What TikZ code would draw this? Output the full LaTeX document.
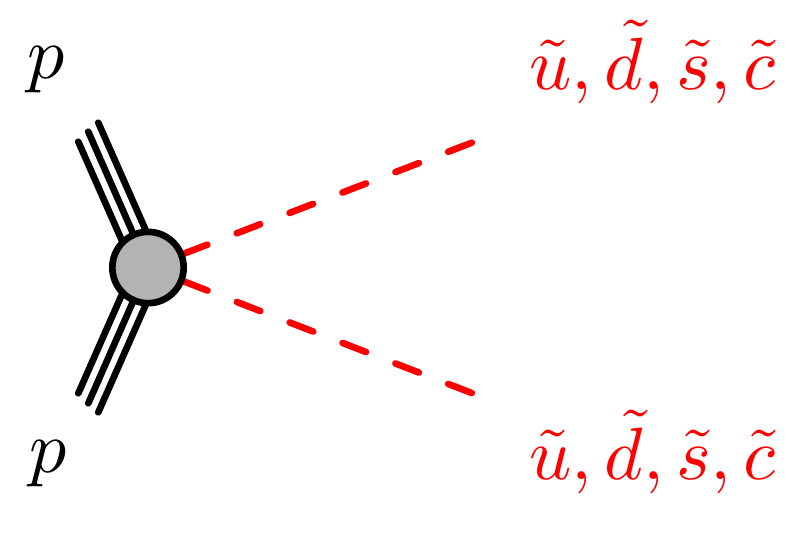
\documentclass[tikz,border=0pt]{standalone}
\usetikzlibrary{backgrounds,calc}
\definecolor{blobgray}{RGB}{179,179,179}
\begin{document}
\begin{tikzpicture}[x=0.13514pt,y=-0.13514pt,
  proton/.style={line width=0.9pt, line cap=round},
  squark/.style={red, line width=0.9pt, line cap=round, dash pattern=on 3.4pt off 4.26pt},
  blobstyle/.style={circle, draw, line width=0.9pt, fill=blobgray, minimum size=9.64pt, inner sep=0pt},
  lab/.style={anchor=base, inner sep=0pt}]
\useasboundingbox (0,0) rectangle (800,534);
\node[blobstyle] (blob) at (148,267.5) {};
\coordinate (pu) at (88.3,131.7);
\coordinate (pl) at (88.3,403.3);
\coordinate (su) at (471.7,142.7);
\coordinate (sl) at (471.7,393);
\begin{scope}[on background layer]
  \draw[proton] (pu) -- (blob.center);
  \draw[proton] ($(pu)+(-10,10)$) -- ($(blob.center)+(-11.9,5.2)$);
  \draw[proton] ($(pu)+(10,-9)$) -- ($(blob.center)+(11.9,-5.2)$);
  \draw[proton] (pl) -- (blob.center);
  \draw[proton] ($(pl)+(-10,-10)$) -- ($(blob.center)+(-11.9,-5.2)$);
  \draw[proton] ($(pl)+(10,9)$) -- ($(blob.center)+(11.9,5.2)$);
  \draw[squark] (su) -- (blob.center);
  \draw[squark] (sl) -- (blob.center);
\end{scope}
\node[lab] (p1) at (46,78.3) {$p$};
\node[lab] (p2) at (48,472.3) {$p$};
\node[lab, text=red] (s1) at (652.5,89) {$\tilde u, \tilde d, \tilde s, \tilde c$};
\node[lab, text=red] (s2) at (652.5,479) {$\tilde u, \tilde d, \tilde s, \tilde c$};
\end{tikzpicture}
\end{document}
